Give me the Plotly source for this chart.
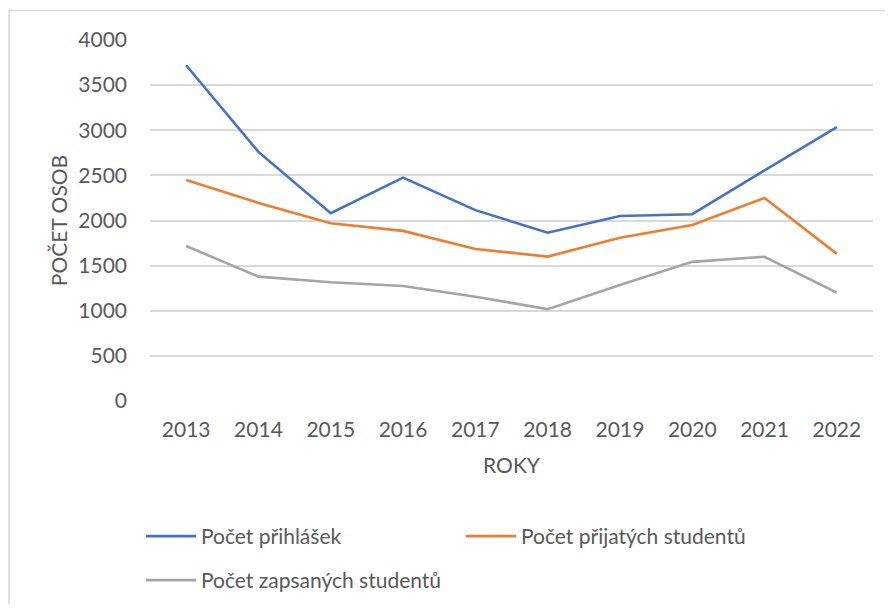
import plotly.graph_objects as go

years = ["2013", "2014", "2015", "2016", "2017", "2018", "2019", "2020", "2021", "2022"]
prihlasky = [3720, 2760, 2080, 2475, 2115, 1865, 2050, 2070, 2555, 3035]
prijati = [2450, 2195, 1970, 1885, 1685, 1600, 1810, 1950, 2250, 1630]
zapsani = [1718, 1378, 1315, 1275, 1155, 1018, 1285, 1542, 1598, 1200]

series_names = ["Počet přihlášek", "Počet přijatých studentů", "Počet zapsaných studentů"]
colors = ["#4472C4", "#ED7D31", "#A5A5A5"]
legend_ids = ["legend", "legend2", "legend3"]

FONT = "Lato, Carlito, 'Liberation Sans', sans-serif"
TXT = "#595959"

fig = go.Figure()
for name, vals, col, lg in zip(series_names, [prihlasky, prijati, zapsani], colors, legend_ids):
    fig.add_trace(go.Scatter(x=years, y=vals, mode="lines", name=name, legend=lg,
                             line=dict(color=col, width=2.6)))

W, H = 885, 596
ml, mr, mt, mb = 142, 20, 32, 203
pw = W - ml - mr
ph = H - mt - mb

def lx(px):
    return (px - ml) / pw

def ly(py):
    return (H - mb - py) / ph

def cx(px):
    return px / W

def cy(py):
    return 1 - py / H

leg_common = dict(orientation="h", xanchor="left", yanchor="top", xref="container", yref="container",
                  font=dict(size=21, color=TXT), itemwidth=50, bgcolor="rgba(0,0,0,0)")

fig.update_layout(
    width=W, height=H,
    margin=dict(l=ml, r=mr, t=mt, b=mb, autoexpand=False),
    paper_bgcolor="white", plot_bgcolor="white",
    font=dict(family=FONT, size=21, color=TXT),
    xaxis=dict(type="category", range=[-0.5, 9.5], showgrid=False, showline=False, zeroline=False,
               ticks="", ticklabelstandoff=14, automargin=False,
               title=dict(text="ROKY", font=dict(size=21, color=TXT), standoff=18)),
    yaxis=dict(range=[0, 4000], dtick=500, showgrid=True, gridcolor="#D9D9D9", gridwidth=1.5,
               zeroline=False, showline=False, ticks="", ticklabelstandoff=22, automargin=False,
               title=dict(text="POČET OSOB", font=dict(size=21, color=TXT), standoff=4)),
    legend=dict(x=cx(133), y=cy(508), **leg_common),
    legend2=dict(x=cx(453), y=cy(508), **leg_common),
    legend3=dict(x=cx(133), y=cy(552), **leg_common),
    showlegend=True,
)

fig.add_shape(type="rect", xref="paper", yref="paper",
              x0=lx(1), x1=lx(W + 10), y0=ly(H + 10), y1=ly(2.5),
              line=dict(color="#D9D9D9", width=1.5), fillcolor="rgba(0,0,0,0)", layer="below")

fig.write_html("out.html")
